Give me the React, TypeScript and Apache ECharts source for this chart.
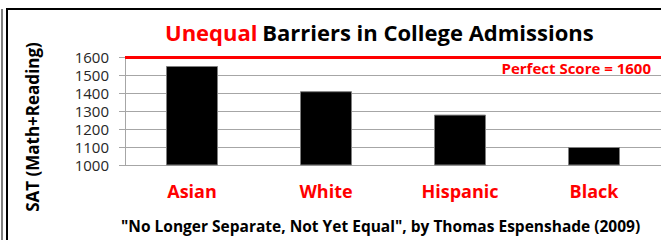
import React, { useEffect, useRef } from "react";
import * as echarts from "echarts";

const categories = ["Asian", "White", "Hispanic", "Black"];
const satScores = [1550, 1410, 1280, 1100];
const perfectScore = 1600;
const yMin = 1000;
const yMax = 1600;
const yInterval = 100;
const titleRed = "Unequal";
const titleBlack = "Barriers in College Admissions";
const yAxisName = "SAT (Math+Reading)";
const footerText = '"No Longer Separate, Not Yet Equal", by Thomas Espenshade (2009)';
const perfectLabel = "Perfect Score = 1600";

const FONT = "'Open Sans', Lato, sans-serif";

export default function App() {
  const ref = useRef<HTMLDivElement>(null);
  useEffect(() => {
    if (!ref.current) return;
    const chart = echarts.init(ref.current, null, { renderer: "svg" });
    chart.setOption({
      animation: false,
      backgroundColor: "#ffffff",
      textStyle: { fontFamily: FONT },
      title: [
        {
          text: `{r|${titleRed}} {b|${titleBlack}}`,
          left: 160,
          top: 16,
          textStyle: {
            rich: {
              r: { color: "#ff0000", fontSize: 22, fontWeight: "bold", fontFamily: FONT },
              b: { color: "#000000", fontSize: 22, fontWeight: "bold", fontFamily: FONT },
            },
          },
        },
        {
          text: footerText,
          left: 116,
          top: 213,
          textStyle: { color: "#000", fontSize: 15.5, fontWeight: "bold", fontFamily: FONT },
        },
      ],
      graphic: [
        { type: "line", shape: { x1: 2, y1: 9, x2: 2, y2: 240 }, style: { stroke: "#000", lineWidth: 1 } },
        { type: "rect", shape: { x: 7, y: 9, width: 700, height: 300 }, style: { fill: "none", stroke: "#000", lineWidth: 2 } },
      ],
      grid: { left: 125, right: 0, top: 57, bottom: 75 },
      xAxis: {
        type: "category",
        data: categories,
        axisLine: { lineStyle: { color: "#a6a6a6", width: 1 } },
        axisTick: { length: 5, lineStyle: { color: "#a6a6a6" } },
        axisLabel: { color: "#ff0000", fontSize: 18, fontWeight: "bold", margin: 17, fontFamily: FONT },
      },
      yAxis: {
        type: "value",
        min: yMin,
        max: yMax,
        interval: yInterval,
        name: yAxisName,
        nameLocation: "middle",
        nameGap: 84,
        nameTextStyle: {
          color: "#000",
          fontSize: 17,
          fontWeight: "bold",
          fontFamily: FONT,
          padding: [0, 32, 0, 0],
        },
        axisLine: { show: true, lineStyle: { color: "#a6a6a6" } },
        axisTick: { show: true, length: 6, lineStyle: { color: "#a6a6a6" } },
        axisLabel: {
          color: "#262626",
          fontSize: 15,
          margin: 16,
          fontFamily: FONT,
          formatter: (v: number) => String(v),
        },
        splitLine: { lineStyle: { color: "#a6a6a6", width: 1 } },
      },
      series: [
        {
          type: "bar",
          data: satScores,
          barWidth: 52,
          itemStyle: { color: "#000", borderColor: "#7f7f7f", borderWidth: 1 },
          markLine: {
            silent: true,
            symbol: "none",
            data: [{ yAxis: perfectScore }],
            lineStyle: { color: "#ff0000", width: 3, type: "solid" },
            label: {
              position: "insideEndBottom",
              formatter: perfectLabel,
              color: "#ff0000",
              fontSize: 15,
              fontWeight: "bold",
              fontFamily: FONT,
              distance: [10, 3],
            },
          },
        },
      ],
    });
    return () => chart.dispose();
  }, []);
  return <div ref={ref} style={{ position: "absolute", left: 0, top: 0, width: 661, height: 240 }} />;
}
